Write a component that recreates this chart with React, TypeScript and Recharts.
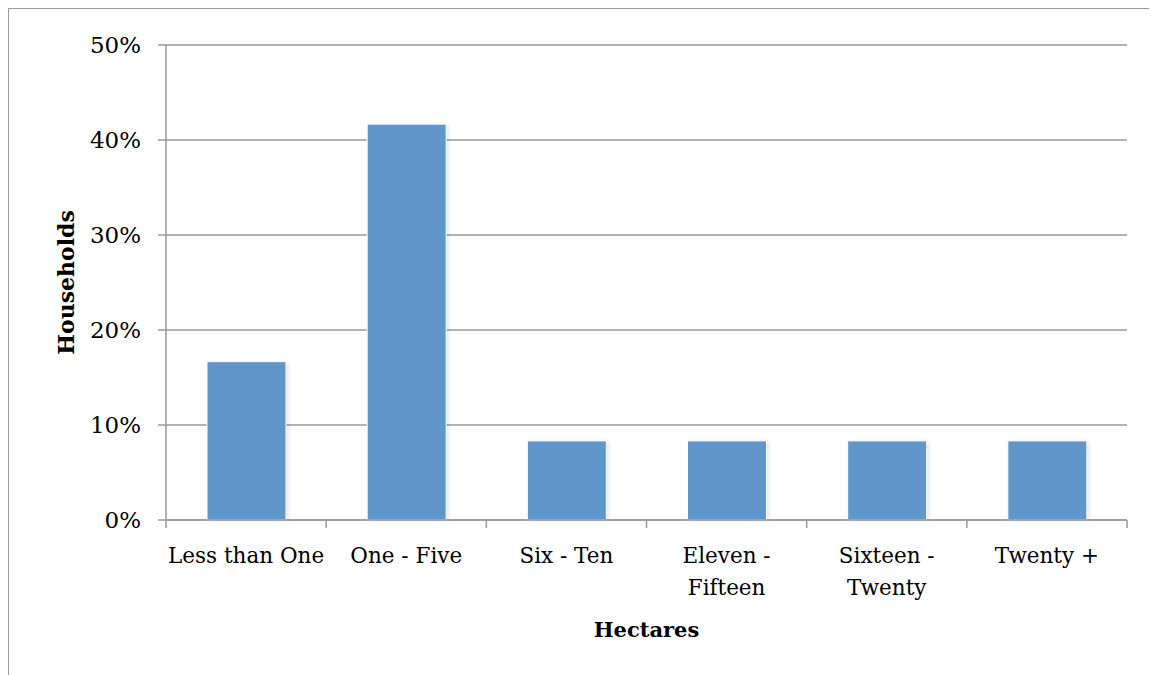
import { BarChart, Bar, XAxis, YAxis, CartesianGrid, Label } from 'recharts'

const categories = ['Less than One', 'One - Five', 'Six - Ten', 'Eleven - Fifteen', 'Sixteen - Twenty', 'Twenty +']
const households = [0.1667, 0.4167, 0.0833, 0.0833, 0.0833, 0.0833]
const yTicks = [0, 0.1, 0.2, 0.3, 0.4, 0.5]

const data = categories.map((name, i) => ({ name, value: households[i] }))

const FONT = '"DejaVu Serif", serif'
const AXIS = '#989898'
const BAR = '#6196ca'

// greedy wrap, excel-ish: long labels go on two lines
function wrap(label: string, maxChars = 13) {
  const words = label.split(' ')
  const lines: string[] = []
  let cur = ''
  for (const w of words) {
    const next = cur ? cur + ' ' + w : w
    if (next.length > maxChars && cur) {
      lines.push(cur)
      cur = w
    } else {
      cur = next
    }
  }
  if (cur) lines.push(cur)
  return lines
}

// tick marks sit on the category boundaries, labels in the middle
function CategoryTick(props: any) {
  const { x, y, payload, index, width, visibleTicksCount } = props
  const band = width / (visibleTicksCount || categories.length)
  const lines = wrap(String(payload.value))
  return (
    <g>
      <line x1={x - band / 2} x2={x - band / 2} y1={y} y2={y + 8} stroke={AXIS} strokeWidth={1.5} />
      {index === categories.length - 1 && (
        <line x1={x + band / 2} x2={x + band / 2} y1={y} y2={y + 8} stroke={AXIS} strokeWidth={1.5} />
      )}
      <text x={x} y={y} textAnchor="middle" fill="#000" fontFamily={FONT} fontSize={21.5}>
        {lines.map((l, i) => (
          <tspan key={i} x={x} dy={i === 0 ? 43 : 32}>{l}</tspan>
        ))}
      </text>
    </g>
  )
}

function ShadowBar(props: any) {
  const { x, y, width, height } = props
  if (!height || height <= 0) return null
  return (
    <g>
      <rect x={x + 2} y={y + 1} width={width} height={height - 1} fill="rgba(0,0,0,0.12)" style={{ filter: 'blur(2px)' }} />
      <rect x={x} y={y} width={width} height={height} fill={BAR} stroke="#ffffff" strokeWidth={1} />
    </g>
  )
}

export default function App() {
  return (
    <div
      style={{
        width: 1149,
        height: 667,
        boxSizing: 'border-box',
        borderTop: '1px solid #9a9a9a',
        borderLeft: '1px solid #9a9a9a',
        background: '#fff',
      }}
    >
      <BarChart width={1148} height={666} data={data} margin={{ top: 36, right: 30, left: 0, bottom: 0 }}>
        <CartesianGrid vertical={false} stroke={AXIS} strokeWidth={1.5} />
        <XAxis
          dataKey="name"
          height={155}
          axisLine={{ stroke: AXIS, strokeWidth: 1.5 }}
          tickLine={false}
          tickSize={0}
          tickMargin={0}
          interval={0}
          tick={<CategoryTick />}
        >
          <Label
            content={(p: any) => {
              const vb = p.viewBox
              return (
                <text x={vb.x + vb.width / 2} y={vb.y + 117} textAnchor="middle" fontFamily={FONT} fontWeight="bold" fontSize={21} fill="#000">
                  Hectares
                </text>
              )
            }}
          />
        </XAxis>
        <YAxis
          width={157}
          domain={[0, 0.5]}
          ticks={yTicks}
          tickFormatter={(v: number) => `${Math.round(v * 100)}%`}
          tick={{ fill: '#000', fontFamily: FONT, fontSize: 23 }}
          tickSize={8}
          tickMargin={17}
          tickLine={{ stroke: AXIS, strokeWidth: 1.5 }}
          axisLine={{ stroke: AXIS, strokeWidth: 1.5 }}
        >
          <Label
            content={(p: any) => {
              const vb = p.viewBox
              const cy = vb.y + vb.height / 2
              return (
                <text x={65} y={cy} transform={`rotate(-90, 65, ${cy})`} textAnchor="middle" fontFamily={FONT} fontWeight="bold" fontSize={22} fill="#000">
                  Households
                </text>
              )
            }}
          />
        </YAxis>
        <Bar dataKey="value" barSize={79} shape={<ShadowBar />} isAnimationActive={false} />
      </BarChart>
    </div>
  )
}
